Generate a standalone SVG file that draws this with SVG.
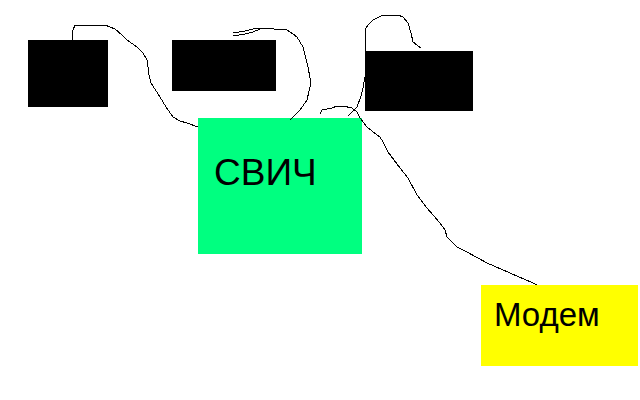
<svg xmlns="http://www.w3.org/2000/svg" width="640" height="400" viewBox="0 0 640 400">
<style>
.blk{fill:#000}
.wire{fill:none;stroke:#000;stroke-width:1;shape-rendering:crispEdges}
.lbl{font-family:"Liberation Sans",Arial,sans-serif;fill:#000}
</style>
<rect width="640" height="400" fill="#fff"/>
<g id="pc1"><rect class="blk" x="28" y="40" width="80" height="67"/></g>
<g id="pc2"><rect class="blk" x="172" y="40" width="104" height="51"/></g>
<g id="pc3"><rect class="blk" x="365" y="51" width="108" height="60"/></g>
<g id="switch"><rect x="198" y="118" width="164" height="136" fill="#00ff80"/><text class="lbl" x="214" y="185" font-size="37">СВИЧ</text></g>
<g id="modem"><rect x="481" y="285" width="157" height="81" fill="#ffff00"/><text class="lbl" x="494" y="326" font-size="33">Модем</text></g>
<g id="connectors">
<path class="wire" d="M72,40 L73,30 L75,25 L105,25 L115,29 L122,35 L127,40 L137,47 L143,53 L147,60 L148,67 L149,75 L151,83 L160,97 L166,107 L173,117 L180,121 L187,123 L198,127"/>
<path class="wire" d="M233,33 L245,31 L253,29 L260,28 L287,30 L293,34 L297,37 L300,42 L303,47 L305,55 L308,67 L310,78 L310,87 L307,100 L300,110 L290,120"/>
<path class="wire" d="M233,36 L245,34 L253,32 L260,29"/>
<path class="wire" d="M421,48 L413,42 L411,33 L408,23 L403,17 L398,15 L383,15 L373,20 L368,25 L365,30 L365,77 L363,88 L361,96 L357,107 L352,112 L348,116"/>
<path class="wire" d="M320,114 L322,110 L332,108 L337,106 L343,106 L352,108 L357,112 L360,118 L367,127 L377,135 L380,137 L383,142 L388,152 L400,168 L408,178 L417,195 L427,208 L440,223 L445,230 L447,237 L457,247 L467,252 L487,263 L510,273 L533,283 L537,285"/>
</g>
</svg>
